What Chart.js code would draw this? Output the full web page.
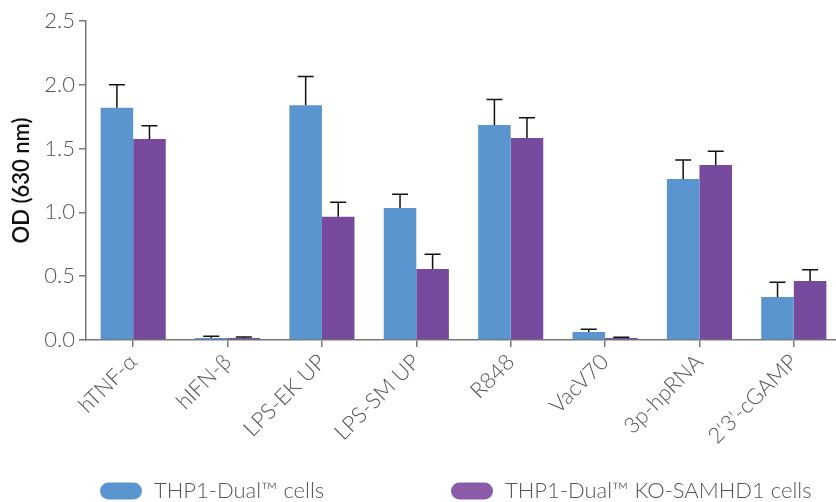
<!DOCTYPE html>
<html>
<head>
<meta charset="utf-8">
<script src="https://cdn.jsdelivr.net/npm/chart.js@4/dist/chart.umd.min.js"></script>
<style>
html,body{margin:0;padding:0;overflow:hidden;background:#fff;}
#wrap{position:relative;width:841px;height:502px;}
</style>
</head>
<body>
<div id="wrap"><canvas id="c" width="841" height="502" style="width:841px;height:502px"></canvas></div>
<script>
const categories = ["hTNF-\u03B1", "hIFN-\u03B2", "LPS-EK UP", "LPS-SM UP", "R848", "VacV70", "3p-hpRNA", "2'3'-cGAMP"];
const seriesNames = ["THP1-Dual\u2122 cells", "THP1-Dual\u2122 KO-SAMHD1 cells"];
const dualValues = [1.82, 0.015, 1.84, 1.035, 1.685, 0.063, 1.262, 0.337];
const dualErrors = [0.18, 0.015, 0.225, 0.107, 0.2, 0.021, 0.148, 0.115];
const koValues = [1.575, 0.015, 0.965, 0.556, 1.583, 0.016, 1.371, 0.462];
const koErrors = [0.105, 0.008, 0.115, 0.116, 0.159, 0.006, 0.108, 0.089];
const yTicks = [0, 0.5, 1.0, 1.5, 2.0, 2.5];

const barColors = ["#5b95cf", "#764a9c"];
const legendColors = ["#5b95cf", "#8a5ba8"];
const FONT = "Lato, 'Open Sans', sans-serif";

const errorBars = {
  id: 'errorBars',
  afterDatasetsDraw(chart) {
    const ctx = chart.ctx;
    const y = chart.scales.y;
    ctx.save();
    ctx.strokeStyle = '#111';
    ctx.lineWidth = 1.5;
    chart.data.datasets.forEach((ds, di) => {
      const meta = chart.getDatasetMeta(di);
      meta.data.forEach((bar, i) => {
        const v = ds.data[i];
        const e = ds.errors[i];
        const yTop = y.getPixelForValue(v + e);
        const yBar = y.getPixelForValue(v);
        ctx.beginPath();
        ctx.moveTo(bar.x, yBar);
        ctx.lineTo(bar.x, yTop);
        ctx.moveTo(bar.x - 8, yTop);
        ctx.lineTo(bar.x + 8, yTop);
        ctx.stroke();
      });
    });
    ctx.restore();
  }
};

const customLegend = {
  id: 'customLegend',
  afterDraw(chart) {
    const ctx = chart.ctx;
    const starts = [100, 451];
    const cy = 491;
    ctx.save();
    ctx.font = "300 22px " + FONT;
    ctx.textBaseline = 'middle';
    seriesNames.forEach((name, i) => {
      const x = starts[i];
      const w = 42, h = 17, r = 8.5;
      ctx.fillStyle = legendColors[i];
      ctx.beginPath();
      ctx.roundRect(x, cy - h / 2, w, h, r);
      ctx.fill();
      ctx.fillStyle = '#555';
      ctx.fillText(name, x + 54, cy);
    });
    ctx.restore();
  }
};

new Chart(document.getElementById('c'), {
  type: 'bar',
  data: {
    labels: categories,
    datasets: [
      { label: seriesNames[0], data: dualValues, errors: dualErrors, backgroundColor: barColors[0], barPercentage: 1.0, categoryPercentage: 0.69 },
      { label: seriesNames[1], data: koValues, errors: koErrors, backgroundColor: barColors[1], barPercentage: 1.0, categoryPercentage: 0.69 }
    ]
  },
  options: {
    responsive: false,
    animation: false,
    layout: { padding: { top: 21, right: 0, bottom: 0, left: 0 } },
    plugins: { legend: { display: false }, tooltip: { enabled: false } },
    scales: {
      x: {
        offset: true,
        grid: { display: true, drawOnChartArea: false, color: '#777', tickLength: 7, lineWidth: 1.5, offset: false },
        border: { display: true, color: '#777', width: 1.5 },
        ticks: {
          minRotation: 45, maxRotation: 45, padding: 2,
          color: '#555', font: { family: FONT, size: 22, weight: '300' }
        },
        afterFit(s) { s.height = 162; }
      },
      y: {
        min: 0, max: 2.5,
        afterBuildTicks(s) { s.ticks = yTicks.map(v => ({ value: v })); },
        grid: { display: true, drawOnChartArea: false, color: '#777', tickLength: 7, lineWidth: 1.5 },
        border: { display: true, color: '#777', width: 1.5 },
        ticks: {
          padding: 4, color: '#555', font: { family: FONT, size: 22, weight: '300' },
          callback: v => Number(v).toFixed(1)
        },
        title: { display: true, text: 'OD (630 nm)', color: '#111', font: { family: FONT, size: 22, weight: '600' }, padding: { top: 9, bottom: 0 } },
        afterFit(s) { s.width = 86; }
      }
    }
  },
  plugins: [errorBars, customLegend]
});
</script>
</body>
</html>
